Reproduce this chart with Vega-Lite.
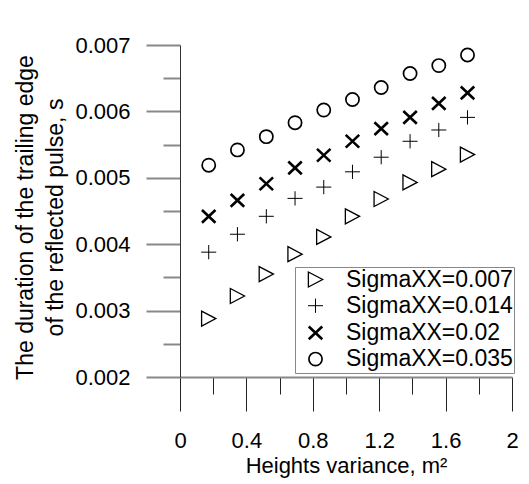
{
  "$schema": "https://vega.github.io/schema/vega-lite/v6.json",
  "autosize": {"type": "none"},
  "padding": {"left": 180, "top": 45, "right": 17, "bottom": 107},
  "width": 332,
  "height": 332,
  "background": "white",
  "config": {
    "font": "Liberation Sans",
    "view": {"stroke": null},
    "axis": {"grid": false, "labelColor": "black", "titleColor": "black", "labelFont": "Liberation Sans", "titleFont": "Liberation Sans", "titleFontWeight": "normal", "labelOverlap": false, "labelFlush": false},
    "legend": {"labelFont": "Liberation Sans"}
  },
  "data": {
    "values": [
      {"x": 0.173, "y": 0.00288, "series": "SigmaXX=0.007"},
      {"x": 0.346, "y": 0.00322, "series": "SigmaXX=0.007"},
      {"x": 0.520, "y": 0.00355, "series": "SigmaXX=0.007"},
      {"x": 0.693, "y": 0.00385, "series": "SigmaXX=0.007"},
      {"x": 0.866, "y": 0.00411, "series": "SigmaXX=0.007"},
      {"x": 1.039, "y": 0.00442, "series": "SigmaXX=0.007"},
      {"x": 1.212, "y": 0.00468, "series": "SigmaXX=0.007"},
      {"x": 1.386, "y": 0.00493, "series": "SigmaXX=0.007"},
      {"x": 1.559, "y": 0.00513, "series": "SigmaXX=0.007"},
      {"x": 1.732, "y": 0.00535, "series": "SigmaXX=0.007"},
      {"x": 0.173, "y": 0.00388, "series": "SigmaXX=0.014"},
      {"x": 0.346, "y": 0.00415, "series": "SigmaXX=0.014"},
      {"x": 0.520, "y": 0.00442, "series": "SigmaXX=0.014"},
      {"x": 0.693, "y": 0.00469, "series": "SigmaXX=0.014"},
      {"x": 0.866, "y": 0.00486, "series": "SigmaXX=0.014"},
      {"x": 1.039, "y": 0.00509, "series": "SigmaXX=0.014"},
      {"x": 1.212, "y": 0.00531, "series": "SigmaXX=0.014"},
      {"x": 1.386, "y": 0.00555, "series": "SigmaXX=0.014"},
      {"x": 1.559, "y": 0.00572, "series": "SigmaXX=0.014"},
      {"x": 1.732, "y": 0.00591, "series": "SigmaXX=0.014"},
      {"x": 0.173, "y": 0.00442, "series": "SigmaXX=0.02"},
      {"x": 0.346, "y": 0.00466, "series": "SigmaXX=0.02"},
      {"x": 0.520, "y": 0.00491, "series": "SigmaXX=0.02"},
      {"x": 0.693, "y": 0.00515, "series": "SigmaXX=0.02"},
      {"x": 0.866, "y": 0.00534, "series": "SigmaXX=0.02"},
      {"x": 1.039, "y": 0.00555, "series": "SigmaXX=0.02"},
      {"x": 1.212, "y": 0.00574, "series": "SigmaXX=0.02"},
      {"x": 1.386, "y": 0.00591, "series": "SigmaXX=0.02"},
      {"x": 1.559, "y": 0.00612, "series": "SigmaXX=0.02"},
      {"x": 1.732, "y": 0.00628, "series": "SigmaXX=0.02"},
      {"x": 0.173, "y": 0.00519, "series": "SigmaXX=0.035"},
      {"x": 0.346, "y": 0.00542, "series": "SigmaXX=0.035"},
      {"x": 0.520, "y": 0.00562, "series": "SigmaXX=0.035"},
      {"x": 0.693, "y": 0.00583, "series": "SigmaXX=0.035"},
      {"x": 0.866, "y": 0.00602, "series": "SigmaXX=0.035"},
      {"x": 1.039, "y": 0.00618, "series": "SigmaXX=0.035"},
      {"x": 1.212, "y": 0.00636, "series": "SigmaXX=0.035"},
      {"x": 1.386, "y": 0.00657, "series": "SigmaXX=0.035"},
      {"x": 1.559, "y": 0.00669, "series": "SigmaXX=0.035"},
      {"x": 1.732, "y": 0.00685, "series": "SigmaXX=0.035"}
    ]
  },
  "mark": {"type": "point", "filled": false, "color": "black", "size": 225, "opacity": 1},
  "encoding": {
    "x": {
      "field": "x", "type": "quantitative",
      "scale": {"domain": [0, 2], "nice": false, "zero": false},
      "axis": {
        "title": "Heights variance, m²",
        "titleFontSize": 22,
        "titlePadding": 4,
        "values": [0, 0.2, 0.4, 0.6, 0.8, 1, 1.2, 1.4, 1.6, 1.8, 2],
        "format": "~g",
        "labelExpr": "abs(datum.value*2.5 - round(datum.value*2.5)) < 0.01 ? datum.label : ''",
        "labelFontSize": 22,
        "labelPadding": 19,
        "tickSize": {"condition": {"test": "abs(datum.value*2.5 - round(datum.value*2.5)) > 0.01", "value": 17}, "value": 34},
        "tickColor": "#222",
        "tickWidth": 1,
        "domainColor": "#888",
        "domainWidth": 2
      }
    },
    "y": {
      "field": "y", "type": "quantitative",
      "scale": {"domain": [0.002, 0.007], "nice": false, "zero": false},
      "axis": {
        "title": ["The duration of the trailing edge", "of the reflected pulse, s"],
        "titleFontSize": 23,
        "titleLineHeight": 30,
        "titlePadding": 7,
        "titleY": 172,
        "values": [0.002, 0.0025, 0.003, 0.0035, 0.004, 0.0045, 0.005, 0.0055, 0.006, 0.0065, 0.007],
        "format": ".3f",
        "labelExpr": "abs(datum.value*1000 - round(datum.value*1000)) < 0.01 ? datum.label : ''",
        "labelFontSize": 22,
        "labelPadding": 16,
        "tickSize": {"condition": {"test": "abs(datum.value*1000 - round(datum.value*1000)) > 0.01", "value": 17}, "value": 34},
        "tickColor": "#888",
        "tickWidth": 2,
        "domainColor": "#333",
        "domainWidth": 1
      }
    },
    "shape": {
      "field": "series", "type": "nominal",
      "scale": {
        "domain": ["SigmaXX=0.007", "SigmaXX=0.014", "SigmaXX=0.02", "SigmaXX=0.035"],
        "range": [
          "M-0.95,-1L0.95,0L-0.95,1Z",
          "M-1,0L1,0M0,-0.95L0,0.95",
          "M-0.9,-0.85L0.9,0.85M-0.9,0.85L0.9,-0.85",
          "M0.88,0A0.88,0.88 0 1,1 -0.88,0A0.88,0.88 0 1,1 0.88,0Z"
        ]
      },
      "legend": {
        "title": null,
        "orient": "none",
        "legendX": 115,
        "legendY": 222,
        "padding": 1,
        "symbolOffset": 8,
        "labelOffset": 19,
        "labelFontSize": 23,
        "labelLimit": 300,
        "symbolSize": 225,
        "symbolStrokeColor": "black",
        "symbolFillColor": "transparent",
        "strokeColor": "#888",
        "rowPadding": 2.2
      }
    },
    "strokeWidth": {
      "field": "series", "type": "nominal",
      "scale": {
        "type": "ordinal",
        "domain": ["SigmaXX=0.007", "SigmaXX=0.014", "SigmaXX=0.02", "SigmaXX=0.035"],
        "range": [1.3, 1, 2.6, 1.7]
      },
      "legend": {
        "title": null,
        "orient": "none",
        "legendX": 115,
        "legendY": 222,
        "padding": 1,
        "symbolOffset": 8,
        "labelOffset": 19,
        "labelFontSize": 23,
        "labelLimit": 300,
        "symbolSize": 225,
        "symbolStrokeColor": "black",
        "symbolFillColor": "transparent",
        "strokeColor": "#888",
        "rowPadding": 2.2
      }
    }
  }
}
